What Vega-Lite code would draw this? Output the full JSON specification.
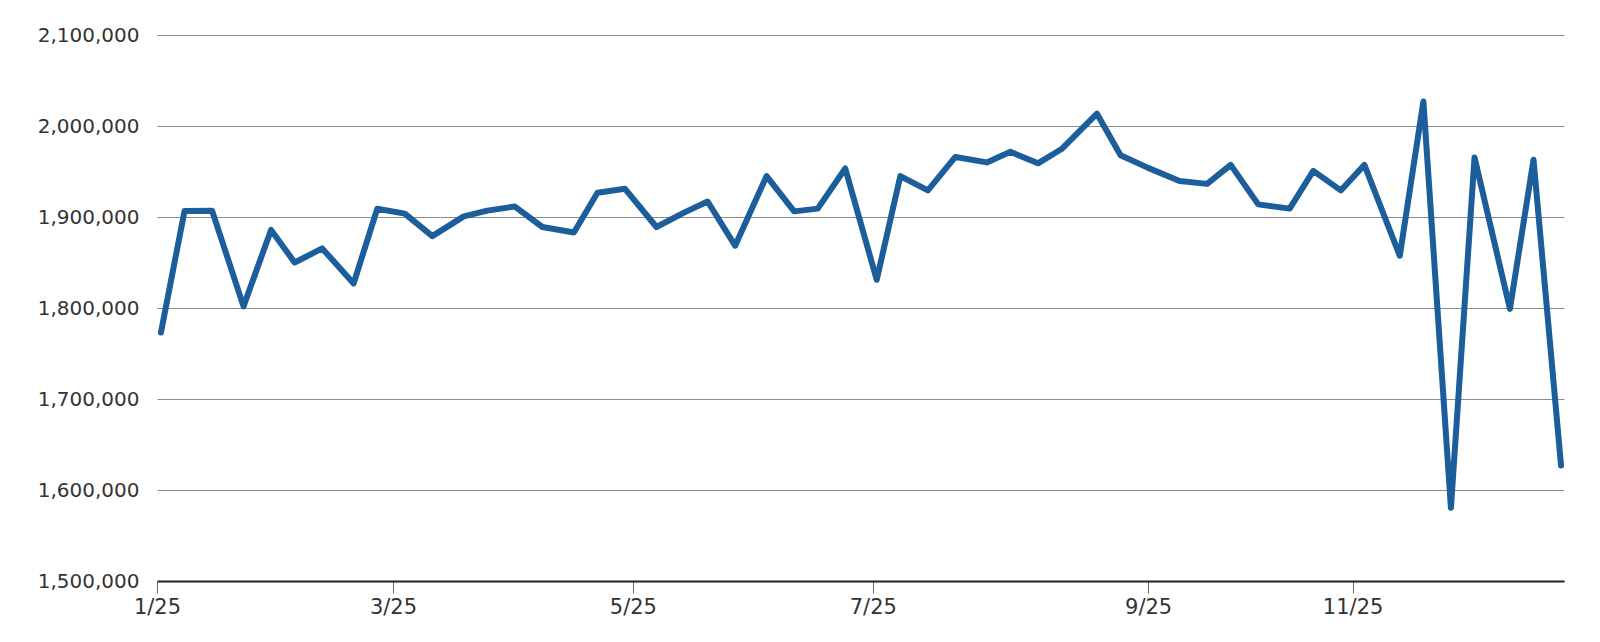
{
  "$schema": "https://vega.github.io/schema/vega-lite/v6.json",
  "width": 1407,
  "height": 546,
  "autosize": {"type": "none"},
  "padding": {"left": 157, "top": 35, "right": 36, "bottom": 61},
  "background": "#ffffff",
  "config": {"view": {"stroke": null}},
  "data": {
    "values": [
      {"date": "2025-01-02", "value": 1773000},
      {"date": "2025-01-08", "value": 1906600},
      {"date": "2025-01-15", "value": 1907000},
      {"date": "2025-01-23", "value": 1801800},
      {"date": "2025-01-30", "value": 1885800},
      {"date": "2025-02-05", "value": 1850000},
      {"date": "2025-02-12", "value": 1865500},
      {"date": "2025-02-20", "value": 1827000},
      {"date": "2025-02-26", "value": 1909000},
      {"date": "2025-03-05", "value": 1903700},
      {"date": "2025-03-12", "value": 1879000},
      {"date": "2025-03-20", "value": 1900700},
      {"date": "2025-03-26", "value": 1907000},
      {"date": "2025-04-02", "value": 1911500},
      {"date": "2025-04-09", "value": 1889000},
      {"date": "2025-04-17", "value": 1883000},
      {"date": "2025-04-23", "value": 1926700},
      {"date": "2025-04-30", "value": 1931000},
      {"date": "2025-05-08", "value": 1889000},
      {"date": "2025-05-15", "value": 1904800},
      {"date": "2025-05-21", "value": 1917000},
      {"date": "2025-05-28", "value": 1868500},
      {"date": "2025-06-05", "value": 1945000},
      {"date": "2025-06-12", "value": 1906200},
      {"date": "2025-06-18", "value": 1909200},
      {"date": "2025-06-25", "value": 1953300},
      {"date": "2025-07-03", "value": 1831000},
      {"date": "2025-07-09", "value": 1945000},
      {"date": "2025-07-16", "value": 1929200},
      {"date": "2025-07-23", "value": 1966000},
      {"date": "2025-07-31", "value": 1960000},
      {"date": "2025-08-06", "value": 1971600},
      {"date": "2025-08-13", "value": 1959000},
      {"date": "2025-08-19", "value": 1974700},
      {"date": "2025-08-28", "value": 2013500},
      {"date": "2025-09-03", "value": 1967900},
      {"date": "2025-09-10", "value": 1954000},
      {"date": "2025-09-18", "value": 1939500},
      {"date": "2025-09-25", "value": 1936400},
      {"date": "2025-10-01", "value": 1957300},
      {"date": "2025-10-08", "value": 1913900},
      {"date": "2025-10-16", "value": 1909200},
      {"date": "2025-10-22", "value": 1950700},
      {"date": "2025-10-29", "value": 1929200},
      {"date": "2025-11-04", "value": 1957300},
      {"date": "2025-11-13", "value": 1857400},
      {"date": "2025-11-19", "value": 2026900},
      {"date": "2025-11-26", "value": 1580500},
      {"date": "2025-12-02", "value": 1965400},
      {"date": "2025-12-11", "value": 1799000},
      {"date": "2025-12-17", "value": 1963000},
      {"date": "2025-12-24", "value": 1627000}
    ]
  },
  "mark": {
    "type": "line",
    "color": "#1b5e9b",
    "strokeWidth": 6,
    "strokeCap": "round",
    "strokeJoin": "round",
    "clip": false
  },
  "encoding": {
    "x": {
      "field": "date",
      "type": "temporal",
      "title": null,
      "scale": {
        "type": "utc",
        "domain": [
          {"year": 2025, "month": 1, "date": 1, "utc": true},
          {"year": 2025, "month": 12, "date": 24, "hours": 18, "utc": true}
        ],
        "nice": false
      },
      "axis": {
        "values": [
          {"year": 2025, "month": 1, "date": 1, "utc": true},
          {"year": 2025, "month": 3, "date": 2, "utc": true},
          {"year": 2025, "month": 5, "date": 2, "utc": true},
          {"year": 2025, "month": 7, "date": 2, "utc": true},
          {"year": 2025, "month": 9, "date": 10, "utc": true},
          {"year": 2025, "month": 11, "date": 1, "utc": true}
        ],
        "labelExpr": "utcFormat(datum.value, '%-m/%y')",
        "grid": false,
        "domainColor": "#222222",
        "domainWidth": 2,
        "tickColor": "#666666",
        "tickWidth": 1,
        "tickSize": 12,
        "labelPadding": 3,
        "labelFont": "DejaVu Sans",
        "labelFontSize": 21,
        "labelColor": "#333333",
        "labelFlush": false,
        "labelOverlap": false,
        "zindex": 1
      }
    },
    "y": {
      "field": "value",
      "type": "quantitative",
      "title": null,
      "scale": {"domain": [1500000, 2100000], "nice": false, "zero": false},
      "axis": {
        "values": [1500000, 1600000, 1700000, 1800000, 1900000, 2000000, 2100000],
        "labelExpr": "format(datum.value, ',.0f')",
        "grid": true,
        "gridColor": "#8c8c8c",
        "gridWidth": 1,
        "domain": false,
        "ticks": false,
        "labelPadding": 18,
        "labelFont": "DejaVu Sans",
        "labelFontSize": 20,
        "labelColor": "#333333",
        "labelOverlap": false
      }
    }
  }
}
